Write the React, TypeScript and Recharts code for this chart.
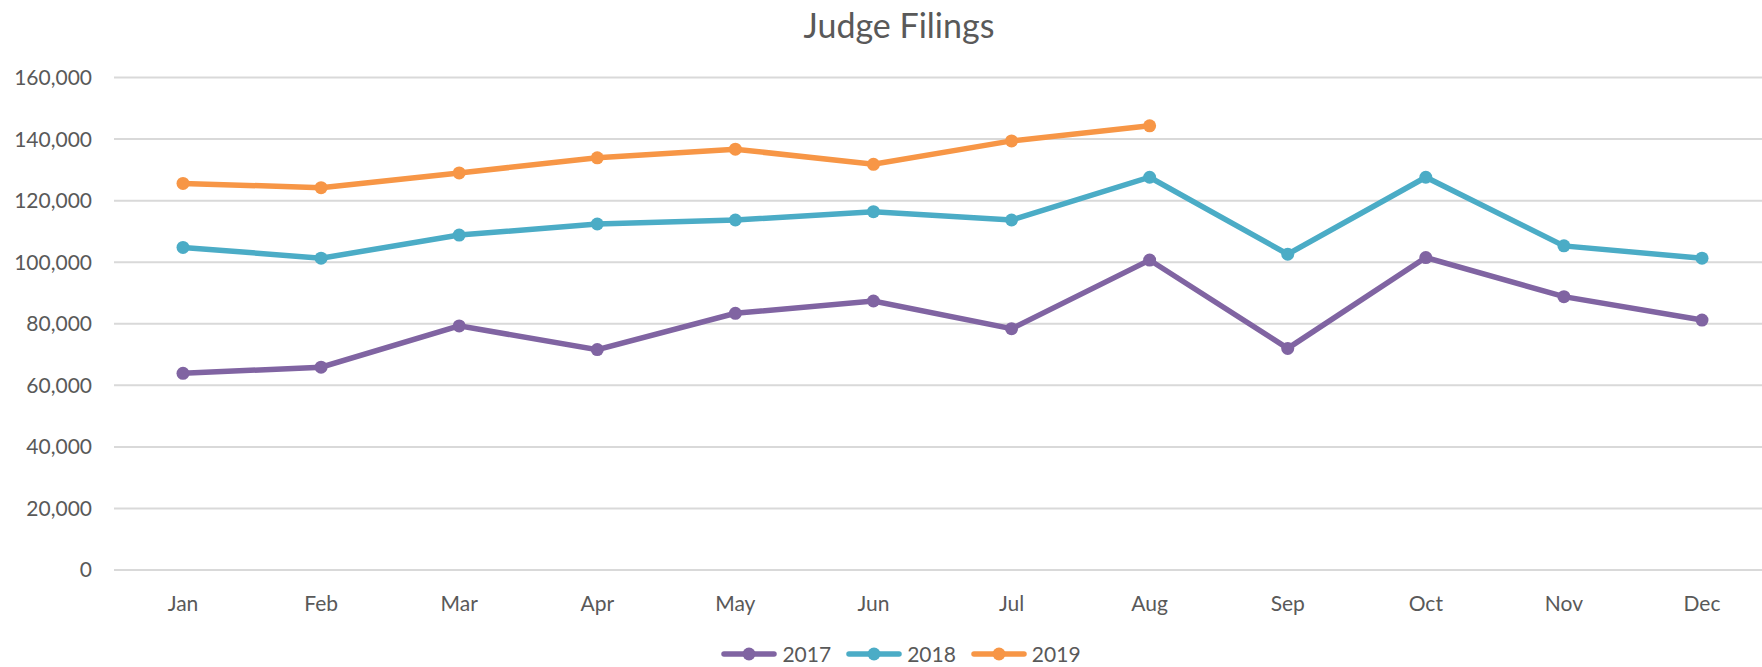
import { LineChart, Line, XAxis, YAxis, CartesianGrid, Legend } from 'recharts'

const months = ['Jan', 'Feb', 'Mar', 'Apr', 'May', 'Jun', 'Jul', 'Aug', 'Sep', 'Oct', 'Nov', 'Dec']
const filings2017 = [63900, 65900, 79300, 71600, 83400, 87400, 78400, 100700, 72000, 101500, 88800, 81200]
const filings2018 = [104800, 101300, 108800, 112400, 113700, 116400, 113700, 127600, 102600, 127600, 105300, 101300]
const filings2019 = [125600, 124200, 129000, 133900, 136700, 131800, 139400, 144300, null, null, null, null]
const yTicks = [0, 20000, 40000, 60000, 80000, 100000, 120000, 140000, 160000]

const series = [
  { key: 'y2017', name: '2017', color: '#8064A2' },
  { key: 'y2018', name: '2018', color: '#4BACC6' },
  { key: 'y2019', name: '2019', color: '#F79646' },
]

const data = months.map((month, i) => ({
  month,
  y2017: filings2017[i],
  y2018: filings2018[i],
  y2019: filings2019[i],
}))

const FONT = 'Lato, "Noto Sans", sans-serif'
const TEXT = '#595959'

function LegendContent() {
  return (
    <div
      style={{
        display: 'flex',
        justifyContent: 'center',
        alignItems: 'center',
        gap: 15,
        height: 27,
        paddingLeft: 31,
        fontFamily: FONT,
        fontSize: 21,
        color: TEXT,
      }}
    >
      {series.map((s) => (
        <span key={s.key} style={{ display: 'flex', alignItems: 'center' }}>
          <svg width={56} height={14} style={{ marginRight: 5 }}>
            <line x1={3} y1={7} x2={53} y2={7} stroke={s.color} strokeWidth={5.5} strokeLinecap="round" />
            <circle cx={28} cy={7} r={6.5} fill={s.color} />
          </svg>
          {s.name}
        </span>
      ))}
    </div>
  )
}

export default function App() {
  return (
    <div
      style={{
        position: 'absolute',
        left: 0,
        top: 0,
        width: 1762,
        height: 667,
        overflow: 'hidden',
        background: '#fff',
        fontFamily: FONT,
      }}
    >
      <div
        style={{
          position: 'absolute',
          top: 5,
          left: 0,
          width: 1798,
          textAlign: 'center',
          fontSize: 34,
          lineHeight: '40px',
          color: TEXT,
        }}
      >
        Judge Filings
      </div>
      <LineChart
        width={1798}
        height={667}
        data={data}
        margin={{ top: 77.5, right: 27, left: 0, bottom: 0 }}
      >
        <CartesianGrid vertical={false} stroke="#d9d9d9" strokeWidth={2} />
        <XAxis
          dataKey="month"
          axisLine={false}
          tickLine={false}
          height={70}
          tickMargin={20}
          padding={{ left: 69, right: 69 }}
          tick={{ fontSize: 21, fill: TEXT, fontFamily: FONT }}
        />
        <YAxis
          domain={[0, 160000]}
          ticks={yTicks}
          axisLine={false}
          tickLine={false}
          width={114}
          tickMargin={16}
          tickFormatter={(v: number) => v.toLocaleString('en-US')}
          tick={{ fontSize: 21, fill: TEXT, fontFamily: FONT }}
        />
        <Legend verticalAlign="bottom" content={<LegendContent />} />
        {series.map((s) => (
          <Line
            key={s.key}
            dataKey={s.key}
            name={s.name}
            type="linear"
            stroke={s.color}
            strokeWidth={5.5}
            dot={{ r: 6.5, fill: s.color, stroke: s.color, strokeWidth: 0 }}
            activeDot={false}
            isAnimationActive={false}
          />
        ))}
      </LineChart>
    </div>
  )
}
